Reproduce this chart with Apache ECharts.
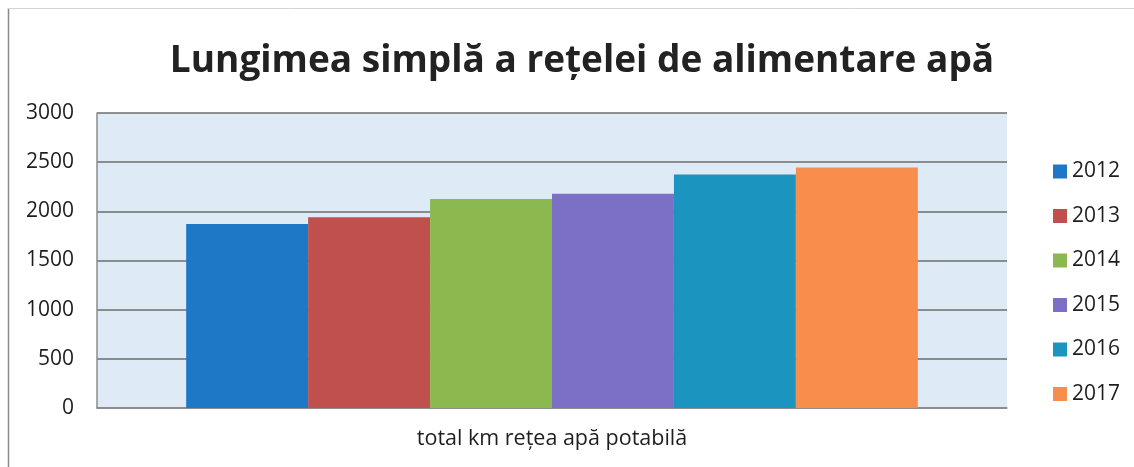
<!DOCTYPE html>
<html>
<head>
<meta charset="utf-8">
<script src="https://cdn.jsdelivr.net/npm/echarts@6/dist/echarts.min.js"></script>
<style>
  html, body { margin: 0; padding: 0; background: #fff; }
  #chart-div { width: 1134px; height: 467px; }
</style>
</head>
<body>
<div id="chart-div"></div>
<script>
// date graficului
const categories = ['total km rețea apă potabilă']
const years = ['2012', '2013', '2014', '2015', '2016', '2017']
const values = [1870, 1940, 2125, 2180, 2375, 2445]
const colors = ['#1f78c6', '#c0504d', '#8cb94f', '#7b70c6', '#1b95c0', '#f88e4b']
const yTicks = [0, 500, 1000, 1500, 2000, 2500, 3000]

const fontName = '"Open Sans", sans-serif'

let myChart = echarts.init(document.getElementById('chart-div'))

const series = years.map((y, i) => ({
    name: y,
    type: 'bar',
    data: [values[i]],
    barGap: 0,
    barCategoryGap: '19.6%',
    itemStyle: { color: colors[i] }
}))

const option = {
    backgroundColor: '#fff',
    // rama exterioara (stanga si sus)
    graphic: [
        { type: 'line', shape: { x1: 8.5, y1: 8, x2: 8.5, y2: 467 }, style: { stroke: '#8a8a8a', lineWidth: 1.5 } },
        { type: 'line', shape: { x1: 8, y1: 8.5, x2: 1134, y2: 8.5 }, style: { stroke: '#d4d4d4', lineWidth: 1 } }
    ],
    title: {
        text: 'Lungimea simplă a rețelei de alimentare apă',
        left: 577,
        top: 38,
        textAlign: 'center',
        textStyle: { fontFamily: fontName, fontWeight: 'bold', fontSize: 37, color: '#222' }
    },
    legend: {
        orient: 'vertical',
        left: 1048,
        top: 156,
        itemWidth: 14,
        itemHeight: 14,
        itemGap: 23.5,
        icon: 'rect',
        textStyle: { fontFamily: fontName, fontSize: 21, color: '#1e1e1e' },
        data: years
    },
    grid: {
        left: 97,
        right: 127,
        top: 113,
        bottom: 59,
        show: true,
        backgroundColor: '#deeaf5',
        borderWidth: 0
    },
    xAxis: {
        type: 'category',
        data: categories,
        axisTick: { show: false },
        axisLine: { lineStyle: { color: '#8c8c8c', width: 1.5 } },
        axisLabel: { fontFamily: fontName, fontSize: 21.5, color: '#1e1e1e', margin: 20 }
    },
    yAxis: {
        type: 'value',
        min: yTicks[0],
        max: yTicks[yTicks.length - 1],
        interval: 500,
        axisLine: { show: true, lineStyle: { color: '#8c8c8c', width: 1.5 } },
        axisTick: { show: false },
        splitLine: { lineStyle: { color: '#6e6e6e', width: 1.5 } },
        axisLabel: {
            fontFamily: fontName, fontSize: 21, color: '#1e1e1e', margin: 23,
            formatter: v => String(v)
        }
    },
    series: series
}

myChart.setOption(option)
</script>
</body>
</html>
